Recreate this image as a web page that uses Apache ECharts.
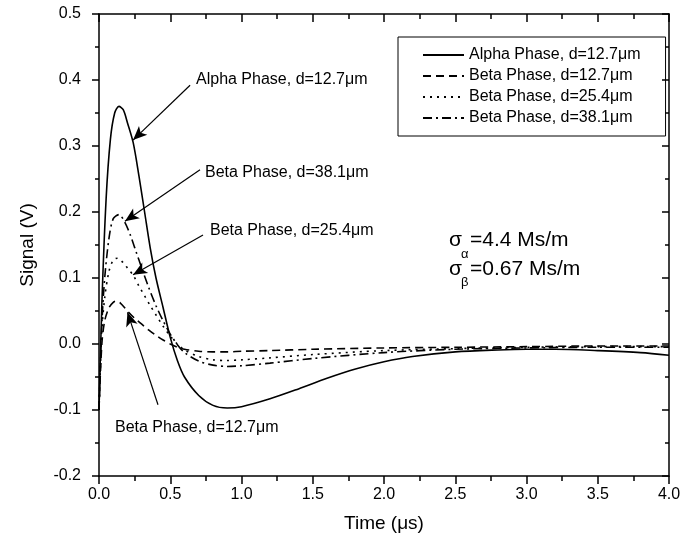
<!DOCTYPE html>
<html><head><meta charset="utf-8">
<script src="https://cdn.jsdelivr.net/npm/echarts@6/dist/echarts.min.js"></script>
<style>html,body{margin:0;padding:0;background:#fff}#c{width:692px;height:545px}</style>
</head><body><div id="c"></div>
<script>
var seriesNames = ['Alpha Phase, d=12.7\u03bcm','Beta Phase, d=12.7\u03bcm','Beta Phase, d=25.4\u03bcm','Beta Phase, d=38.1\u03bcm'];
var tAlpha = [0,0.02,0.05,0.08,0.11,0.14,0.17,0.2,0.24,0.28,0.32,0.36,0.4,0.45,0.5,0.55,0.6,0.7,0.8,0.9,1.0,1.2,1.4,1.6,1.8,2.0,2.2,2.5,2.8,3.0,3.2,3.5,3.8,4.0];
var vAlpha = [-0.1,0.06,0.22,0.31,0.35,0.36,0.355,0.335,0.305,0.255,0.2,0.145,0.1,0.055,0.01,-0.025,-0.05,-0.078,-0.093,-0.097,-0.095,-0.083,-0.068,-0.052,-0.038,-0.027,-0.019,-0.012,-0.009,-0.008,-0.008,-0.01,-0.013,-0.017];
var tBeta12 = [0,0.02,0.04,0.07,0.1,0.12,0.15,0.2,0.25,0.3,0.35,0.4,0.45,0.5,0.55,0.6,0.7,0.8,0.9,1.0,1.2,1.5,2.0,2.5,3.0,3.5,4.0];
var vBeta12 = [-0.1,0.0,0.035,0.055,0.063,0.065,0.062,0.05,0.039,0.03,0.021,0.013,0.006,0.0,-0.005,-0.008,-0.011,-0.012,-0.012,-0.011,-0.01,-0.008,-0.006,-0.005,-0.004,-0.003,-0.003];
var tBeta25 = [0,0.02,0.04,0.07,0.1,0.13,0.17,0.2,0.24,0.28,0.32,0.36,0.4,0.45,0.5,0.55,0.6,0.7,0.8,0.9,1.0,1.2,1.5,2.0,2.5,3.0,3.5,4.0];
var vBeta25 = [-0.1,0.02,0.07,0.11,0.127,0.13,0.123,0.115,0.104,0.088,0.073,0.058,0.044,0.027,0.012,0.0,-0.009,-0.019,-0.024,-0.025,-0.024,-0.021,-0.016,-0.01,-0.007,-0.005,-0.004,-0.004];
var tBeta38 = [0,0.02,0.04,0.07,0.1,0.14,0.18,0.22,0.26,0.3,0.35,0.4,0.45,0.5,0.55,0.6,0.7,0.8,0.9,1.0,1.2,1.5,2.0,2.5,3.0,3.5,4.0];
var vBeta38 = [-0.1,0.03,0.1,0.16,0.19,0.196,0.185,0.165,0.14,0.115,0.085,0.058,0.035,0.015,-0.001,-0.013,-0.026,-0.032,-0.034,-0.033,-0.029,-0.022,-0.013,-0.008,-0.006,-0.005,-0.005];
// annotation arrows in data coordinates: [fromT, fromV, toT, toV]
var arrowAlpha = [0.639,0.392,0.239,0.309];
var arrowBeta38 = [0.709,0.264,0.182,0.186];
var arrowBeta25 = [0.73,0.165,0.239,0.105];
var arrowBeta12 = [0.414,-0.092,0.2,0.048];

function pairs(t,v){return t.map(function(x,i){return [x,v[i]];});}
function arrow(a){return [{coord:[a[0],a[1]]},{coord:[a[2],a[3]]}];}

var chart = echarts.init(document.getElementById('c'));
var FONT = '"Liberation Sans", Arial, sans-serif';
var lineTypes = ['solid',[8,5],[2,5],[9,4,2,4]];
var dataSets = [pairs(tAlpha,vAlpha),pairs(tBeta12,vBeta12),pairs(tBeta25,vBeta25),pairs(tBeta38,vBeta38)];
var series = seriesNames.map(function(n,i){
  return {name:n,type:'line',data:dataSets[i],symbol:'none',smooth:0.3,
    lineStyle:{color:'#000',width:1.6,type:lineTypes[i]},itemStyle:{color:'#000'},z:3};
});
series.push({type:'line',data:[],silent:true,
  markLine:{silent:true,symbol:['none','arrow'],symbolSize:[9,14],
    lineStyle:{color:'#000',width:1.2,type:'solid'},label:{show:false},
    data:[arrow(arrowAlpha),arrow(arrowBeta38),arrow(arrowBeta25),arrow(arrowBeta12)]}});

var lineSt = {color:'#000',width:1.5};
chart.setOption({
  animation:false,
  textStyle:{fontFamily:FONT},
  grid:{left:99,right:23,top:14,bottom:69},
  legend:{data:seriesNames,orient:'vertical',left:398,top:37,
    padding:[10,25,10,24],itemGap:5,itemWidth:41,itemHeight:14,
    borderColor:'#000',borderWidth:1,
    itemStyle:{color:'rgba(0,0,0,0)',borderColor:'rgba(0,0,0,0)',borderWidth:0,opacity:0},
    textStyle:{fontSize:16,color:'#000',fontFamily:FONT}},
  xAxis:[{type:'value',min:0,max:4,interval:0.5,position:'bottom',
      name:'Time (\u03bcs)',nameLocation:'middle',nameGap:38,
      nameTextStyle:{fontSize:19,color:'#000',fontFamily:FONT},
      axisLine:{onZero:false,lineStyle:lineSt},
      axisTick:{length:8,lineStyle:lineSt},
      minorTick:{show:true,splitNumber:2,length:5,lineStyle:lineSt},
      axisLabel:{fontSize:16,color:'#000',margin:11,formatter:function(v){return v.toFixed(1);}},
      splitLine:{show:false}},
    {type:'value',min:0,max:4,interval:0.5,position:'top',
      axisLine:{onZero:false,lineStyle:lineSt},
      axisTick:{inside:true,length:8,lineStyle:lineSt},
      minorTick:{show:true,splitNumber:2,length:5,lineStyle:lineSt},
      axisLabel:{show:false},splitLine:{show:false}}],
  yAxis:[{type:'value',min:-0.2,max:0.5,interval:0.1,position:'left',
      name:'Signal (V)',nameLocation:'middle',nameGap:62,
      nameTextStyle:{fontSize:19,color:'#000',fontFamily:FONT},
      axisLine:{onZero:false,lineStyle:lineSt},
      axisTick:{length:7,lineStyle:lineSt},
      minorTick:{show:true,splitNumber:2,length:4,lineStyle:lineSt},
      axisLabel:{fontSize:16,color:'#000',margin:18,formatter:function(v){return v.toFixed(1);}},
      splitLine:{show:false}},
    {type:'value',min:-0.2,max:0.5,interval:0.1,position:'right',
      axisLine:{onZero:false,lineStyle:lineSt},
      axisTick:{inside:true,length:7,lineStyle:lineSt},
      minorTick:{show:true,splitNumber:2,length:4,lineStyle:lineSt},
      axisLabel:{show:false},splitLine:{show:false}}],
  series:series,
  graphic:[
    {type:'text',left:196,top:72,style:{text:'Alpha Phase, d=12.7\u03bcm',font:'16px '+FONT,fill:'#000'}},
    {type:'text',left:205,top:165,style:{text:'Beta Phase, d=38.1\u03bcm',font:'16px '+FONT,fill:'#000'}},
    {type:'text',left:210,top:223,style:{text:'Beta Phase, d=25.4\u03bcm',font:'16px '+FONT,fill:'#000'}},
    {type:'text',left:115,top:420,style:{text:'Beta Phase, d=12.7\u03bcm',font:'16px '+FONT,fill:'#000'}},
    {type:'text',left:449,top:230,style:{text:'\u03c3',font:'21px '+FONT,fill:'#000'}},
    {type:'text',left:461,top:248,style:{text:'\u03b1',font:'13px '+FONT,fill:'#000'}},
    {type:'text',left:470,top:230,style:{text:'=4.4 Ms/m',font:'21px '+FONT,fill:'#000'}},
    {type:'text',left:449,top:259,style:{text:'\u03c3',font:'21px '+FONT,fill:'#000'}},
    {type:'text',left:461,top:276,style:{text:'\u03b2',font:'13px '+FONT,fill:'#000'}},
    {type:'text',left:470,top:259,style:{text:'=0.67 Ms/m',font:'21px '+FONT,fill:'#000'}}
  ]
});
</script></body></html>
